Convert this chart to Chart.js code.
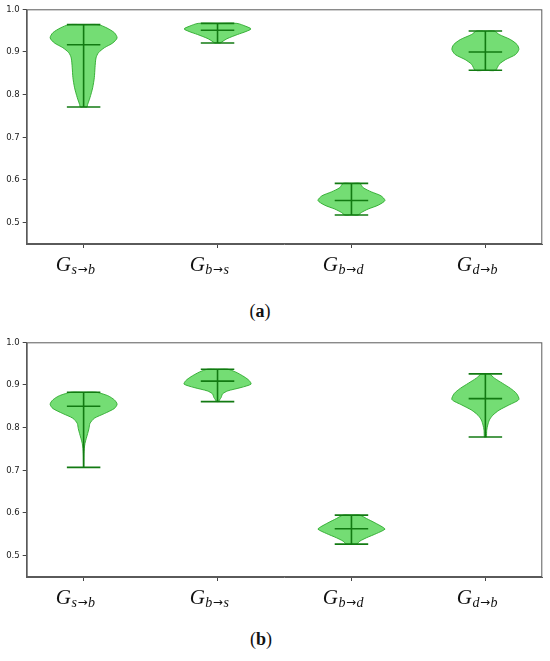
<!DOCTYPE html>
<html>
<head>
<meta charset="utf-8">
<script src="https://cdn.jsdelivr.net/npm/chart.js@4.4.1/dist/chart.umd.min.js"></script>
<style>
  body { margin: 0; background: #fff; width: 550px; height: 661px; position: relative; overflow: hidden; }
  .panel { position: absolute; left: 0; width: 550px; height: 290px; }
  .caption { position: absolute; width: 100px; text-align: center; font-family: "Liberation Serif", serif; font-size: 18px; color: #111; }
</style>
</head>
<body>
<div class="panel" style="top:0px"><canvas id="chartA" width="550" height="290"></canvas></div>
<div class="caption" style="left:210px; top:301px">(<b>a</b>)</div>
<div class="panel" style="top:333px"><canvas id="chartB" width="550" height="290"></canvas></div>
<div class="caption" style="left:211px; top:629px">(<b>b</b>)</div>
<script>
  // categories (shown as G with the subscript) and tick values
  const categories = ["s\u2192b", "b\u2192s", "b\u2192d", "d\u2192b"];
  const positions = [1, 2, 3, 4];
  const yTicks = [0.5, 0.6, 0.7, 0.8, 0.9, 1.0];

  // panel (a)
  const minsA = [0.771, 0.921, 0.518, 0.857];
  const maxesA = [0.964, 0.967, 0.592, 0.949];
  const meansA = [0.917, 0.951, 0.552, 0.900];
  // density profile of each violin: y levels and relative half widths
  const levelsA = [
    [0.771, 0.777, 0.793, 0.816, 0.840, 0.863, 0.886, 0.898, 0.910, 0.921, 0.933, 0.945, 0.956, 0.964],
    [0.921, 0.923, 0.931, 0.941, 0.948, 0.954, 0.960, 0.967],
    [0.518, 0.524, 0.532, 0.541, 0.552, 0.563, 0.572, 0.582, 0.592],
    [0.857, 0.871, 0.882, 0.894, 0.906, 0.917, 0.929, 0.941, 0.949]
  ];
  const widthsA = [
    [0.10, 0.12, 0.19, 0.27, 0.32, 0.34, 0.37, 0.44, 0.62, 0.87, 1.00, 0.92, 0.70, 0.44],
    [0.08, 0.12, 0.28, 0.60, 0.85, 1.00, 0.85, 0.58],
    [0.20, 0.30, 0.50, 0.80, 1.00, 0.88, 0.60, 0.35, 0.25],
    [0.30, 0.41, 0.60, 0.90, 1.00, 0.95, 0.75, 0.41, 0.27]
  ];

  // panel (b)
  const minsB = [0.707, 0.861, 0.527, 0.778];
  const maxesB = [0.883, 0.937, 0.595, 0.926];
  const meansB = [0.850, 0.909, 0.563, 0.868];
  const levelsB = [
    [0.707, 0.736, 0.751, 0.763, 0.775, 0.786, 0.798, 0.810, 0.822, 0.833, 0.845, 0.855, 0.865, 0.875, 0.883],
    [0.861, 0.865, 0.871, 0.879, 0.886, 0.894, 0.902, 0.910, 0.919, 0.930, 0.937],
    [0.527, 0.534, 0.542, 0.552, 0.562, 0.567, 0.577, 0.587, 0.595],
    [0.778, 0.794, 0.806, 0.818, 0.829, 0.841, 0.853, 0.866, 0.880, 0.892, 0.904, 0.916, 0.926]
  ];
  const widthsB = [
    [0.005, 0.01, 0.02, 0.04, 0.08, 0.12, 0.16, 0.19, 0.32, 0.62, 0.92, 1.00, 0.92, 0.72, 0.37],
    [0.03, 0.06, 0.11, 0.15, 0.30, 0.70, 1.00, 0.95, 0.80, 0.55, 0.30],
    [0.15, 0.25, 0.45, 0.75, 1.00, 0.93, 0.70, 0.45, 0.25],
    [0.03, 0.04, 0.07, 0.12, 0.22, 0.41, 0.70, 1.00, 0.93, 0.75, 0.51, 0.27, 0.12]
  ];

  const BODY_FILL = "rgba(50, 205, 50, 0.68)";
  const BODY_EDGE = "rgba(45, 170, 45, 0.9)";
  const LINE_COLOR = "#127a12";
  const HALF_WIDTH = 0.25;  // violin width 0.5
  const CAP_HALF = 0.125;
  const SERIF = '"Liberation Serif", "DejaVu Serif", serif';

  function lineSet(points) {
    return {
      data: points,
      showLine: true,
      fill: false,
      borderColor: LINE_COLOR,
      borderWidth: 1.6,
      pointRadius: 0,
      order: 1
    };
  }

  function buildDatasets(mins, maxes, means, levels, widths) {
    const sets = [];
    positions.forEach((pos, i) => {
      const ys = levels[i];
      const ws = widths[i];
      const right = ys.map((y, k) => ({ x: pos + HALF_WIDTH * ws[k], y: y }));
      const left = ys.map((y, k) => ({ x: pos - HALF_WIDTH * ws[k], y: y })).reverse();
      const outline = [{ x: pos, y: ys[0] }]
        .concat(right, [{ x: pos, y: ys[ys.length - 1] }], left, [{ x: pos, y: ys[0] }]);
      sets.push({
        data: outline,
        showLine: true,
        fill: "shape",
        backgroundColor: BODY_FILL,
        borderColor: BODY_EDGE,
        borderWidth: 1,
        tension: 0.25,
        pointRadius: 0,
        order: 2
      });
      sets.push(lineSet([{ x: pos, y: mins[i] }, { x: pos, y: maxes[i] }]));
      sets.push(lineSet([{ x: pos - CAP_HALF, y: mins[i] }, { x: pos + CAP_HALF, y: mins[i] }]));
      sets.push(lineSet([{ x: pos - CAP_HALF, y: maxes[i] }, { x: pos + CAP_HALF, y: maxes[i] }]));
      sets.push(lineSet([{ x: pos - CAP_HALF, y: means[i] }, { x: pos + CAP_HALF, y: means[i] }]));
    });
    return sets;
  }

  // frame round the plot and the G_{..} labels under the ticks
  const framePlugin = {
    id: "frame",
    afterDraw(chart) {
      const { ctx, chartArea, scales } = chart;
      ctx.save();
      ctx.strokeStyle = "#5a5a5a";
      ctx.lineWidth = 1;
      ctx.strokeRect(chartArea.left + 0.5, chartArea.top + 0.5,
        chartArea.right - chartArea.left - 1, chartArea.bottom - chartArea.top - 1);

      ctx.fillStyle = "#111";
      ctx.textBaseline = "alphabetic";
      ctx.textAlign = "left";
      const base = chartArea.bottom + 27;
      const bigFont = "italic 21px " + SERIF;
      const subFont = "italic 14px " + SERIF;
      const arrowFont = "12px 'DejaVu Sans', sans-serif";
      categories.forEach((sub, i) => {
        const px = scales.x.getPixelForValue(positions[i]);
        const parts = sub.split("\u2192");
        ctx.font = bigFont;
        const gw = ctx.measureText("G").width;
        ctx.font = subFont;
        const w1 = ctx.measureText(parts[0]).width;
        const w3 = ctx.measureText(parts[1]).width;
        ctx.font = arrowFont;
        const w2 = ctx.measureText("\u2192").width;
        const total = gw + w1 + w2 + w3 + 2;
        let cur = px - 8 - total / 2;
        ctx.font = bigFont;
        ctx.fillText("G", cur, base);
        cur += gw + 0.5;
        ctx.font = subFont;
        ctx.fillText(parts[0], cur, base + 3);
        cur += w1 + 0.5;
        ctx.font = arrowFont;
        ctx.fillText("\u2192", cur, base + 2);
        cur += w2 + 0.5;
        ctx.font = subFont;
        ctx.fillText(parts[1], cur, base + 3);
      });
      ctx.restore();
    }
  };

  function makeChart(id, datasets) {
    return new Chart(document.getElementById(id), {
      type: "scatter",
      data: { datasets: datasets },
      options: {
        responsive: false,
        animation: false,
        layout: { padding: { top: 9.3, right: 7.7, bottom: 0, left: 0 } },
        plugins: { legend: { display: false }, tooltip: { enabled: false } },
        scales: {
          x: {
            type: "linear",
            min: 0.575,
            max: 4.425,
            afterBuildTicks: (scale) => { scale.ticks = positions.map((v) => ({ value: v })); },
            afterFit: (scale) => { scale.height = 46; },
            ticks: { display: false },
            grid: { drawOnChartArea: false, drawTicks: true, tickLength: 4, color: "#444" },
            border: { display: true, color: "#5a5a5a" }
          },
          y: {
            min: 0.45,
            max: 1.0,
            afterBuildTicks: (scale) => { scale.ticks = yTicks.map((v) => ({ value: v })); },
            afterFit: (scale) => { scale.width = 26.7; },
            ticks: {
              padding: 3,
              color: "#1a1a1a",
              font: { family: "DejaVu Sans", size: 8.5 },
              callback: (v) => Number(v).toFixed(1)
            },
            grid: { drawOnChartArea: false, drawTicks: true, tickLength: 4, color: "#444" },
            border: { display: true, color: "#5a5a5a" }
          }
        }
      },
      plugins: [framePlugin]
    });
  }

  makeChart("chartA", buildDatasets(minsA, maxesA, meansA, levelsA, widthsA));
  makeChart("chartB", buildDatasets(minsB, maxesB, meansB, levelsB, widthsB));
</script>
</body>
</html>
